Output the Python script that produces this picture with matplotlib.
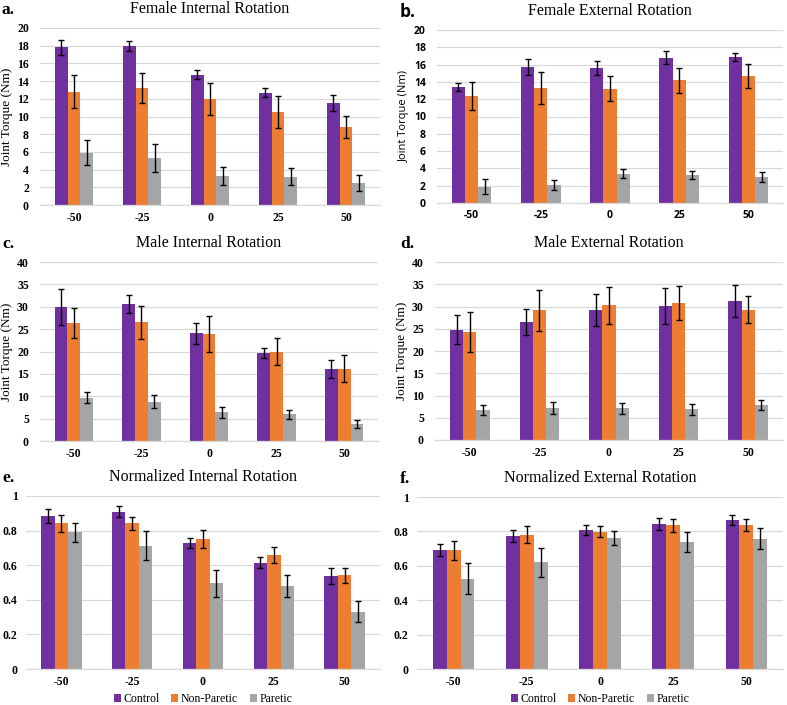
import matplotlib
matplotlib.use("Agg")
import matplotlib.pyplot as plt
import numpy as np

plt.rcParams["font.family"] = "serif"
plt.rcParams["font.serif"] = ["Liberation Serif", "DejaVu Serif"]
plt.rcParams["font.sans-serif"] = ["Open Sans", "DejaVu Sans"]

categories = ["-50", "-25", "0", "25", "50"]
series_names = ["Control", "Non-Paretic", "Paretic"]
colors = ["#7030A0", "#ED7D31", "#A5A5A5"]

# a. Female Internal Rotation
fi_control = [17.8, 18.0, 14.7, 12.7, 11.5]
fi_control_err = [0.85, 0.55, 0.5, 0.5, 0.9]
fi_nonpar = [12.8, 13.2, 12.0, 10.5, 8.8]
fi_nonpar_err = [1.85, 1.7, 1.8, 1.8, 1.25]
fi_paretic = [5.9, 5.3, 3.3, 3.2, 2.5]
fi_paretic_err = [1.4, 1.6, 1.05, 0.95, 0.9]

# b. Female External Rotation
fe_control = [13.4, 15.7, 15.6, 16.8, 16.9]
fe_control_err = [0.5, 0.9, 0.8, 0.75, 0.45]
fe_nonpar = [12.4, 13.3, 13.2, 14.2, 14.7]
fe_nonpar_err = [1.6, 1.8, 1.45, 1.45, 1.4]
fe_paretic = [1.9, 2.1, 3.4, 3.2, 3.0]
fe_paretic_err = [0.85, 0.6, 0.55, 0.45, 0.55]

# c. Male Internal Rotation
mi_control = [30.0, 30.6, 24.1, 19.6, 16.0]
mi_control_err = [4.0, 2.0, 2.35, 1.1, 2.0]
mi_nonpar = [26.4, 26.5, 23.9, 20.0, 16.2]
mi_nonpar_err = [3.4, 3.7, 4.1, 3.0, 3.05]
mi_paretic = [9.7, 8.8, 6.4, 6.0, 3.8]
mi_paretic_err = [1.15, 1.5, 1.15, 1.0, 0.8]

# d. Male External Rotation
me_control = [24.8, 26.6, 29.3, 30.1, 31.2]
me_control_err = [3.25, 2.95, 3.6, 4.1, 3.6]
me_nonpar = [24.3, 29.2, 30.3, 30.8, 29.3]
me_nonpar_err = [4.45, 4.6, 4.15, 3.85, 3.05]
me_paretic = [6.7, 7.3, 7.1, 6.9, 7.8]
me_paretic_err = [1.15, 1.35, 1.25, 1.25, 1.15]

# e. Normalized Internal Rotation
ni_control = [0.885, 0.91, 0.728, 0.615, 0.537]
ni_control_err = [0.042, 0.03, 0.03, 0.03, 0.047]
ni_nonpar = [0.842, 0.843, 0.75, 0.66, 0.542]
ni_nonpar_err = [0.05, 0.038, 0.053, 0.048, 0.044]
ni_paretic = [0.79, 0.713, 0.495, 0.478, 0.33]
ni_paretic_err = [0.056, 0.082, 0.078, 0.063, 0.061]

# f. Normalized External Rotation
ne_control = [0.69, 0.773, 0.807, 0.845, 0.866]
ne_control_err = [0.035, 0.037, 0.028, 0.035, 0.028]
ne_nonpar = [0.69, 0.78, 0.797, 0.835, 0.837]
ne_nonpar_err = [0.057, 0.049, 0.032, 0.037, 0.035]
ne_paretic = [0.525, 0.62, 0.762, 0.737, 0.757]
ne_paretic_err = [0.09, 0.083, 0.043, 0.057, 0.062]

SERIF = ["Liberation Serif", "DejaVu Serif"]
SANS = ["Open Sans", "DejaVu Sans"]

W, H = 787, 705
fig = plt.figure(figsize=(W / 100, H / 100), dpi=100)
fig.patch.set_facecolor("white")


def px_axes(x0, y0, x1, y1):
    return fig.add_axes([x0 / W, 1 - y1 / H, (x1 - x0) / W, (y1 - y0) / H])


panels = [
    dict(box=(40, 28, 380, 205), letter="a.", lx=2, title="Female Internal Rotation",
         data=[(fi_control, fi_control_err), (fi_nonpar, fi_nonpar_err), (fi_paretic, fi_paretic_err)],
         ymax=20, step=2, ylabel=True, sans=False),
    dict(box=(437, 30, 783, 203), letter="b.", lx=400, title="Female External Rotation",
         data=[(fe_control, fe_control_err), (fe_nonpar, fe_nonpar_err), (fe_paretic, fe_paretic_err)],
         ymax=20, step=2, ylabel=True, sans=True),
    dict(box=(40, 262, 378, 441), letter="c.", lx=2, title="Male Internal Rotation",
         data=[(mi_control, mi_control_err), (mi_nonpar, mi_nonpar_err), (mi_paretic, mi_paretic_err)],
         ymax=40, step=5, ylabel=True, sans=False),
    dict(box=(435, 262, 783, 440), letter="d.", lx=400, title="Male External Rotation",
         data=[(me_control, me_control_err), (me_nonpar, me_nonpar_err), (me_paretic, me_paretic_err)],
         ymax=40, step=5, ylabel=True, sans=False),
    dict(box=(26, 496, 380, 669), letter="e.", lx=2, title="Normalized Internal Rotation",
         data=[(ni_control, ni_control_err), (ni_nonpar, ni_nonpar_err), (ni_paretic, ni_paretic_err)],
         ymax=1, step=0.2, ylabel=False, sans=False, legend=True),
    dict(box=(417, 497, 783, 669), letter="f.", lx=400, title="Normalized External Rotation",
         data=[(ne_control, ne_control_err), (ne_nonpar, ne_nonpar_err), (ne_paretic, ne_paretic_err)],
         ymax=1, step=0.2, ylabel=False, sans=False, legend=True),
]

x = np.arange(len(categories))
bw = 0.19

for p in panels:
    x0, y0, x1, y1 = p["box"]
    ax = px_axes(x0, y0, x1, y1)
    if p["sans"]:
        tick_font = dict(family=SANS, weight="bold", size=7.5)
    else:
        tick_font = dict(family=SERIF, weight="bold", size=8.5)
    handles = []
    for i, ((vals, errs), col, name) in enumerate(zip(p["data"], colors, series_names)):
        pos = x + (i - 1) * bw
        b = ax.bar(pos, vals, width=bw, color=col, edgecolor="none", zorder=2, label=name)
        ax.errorbar(pos, vals, yerr=errs, fmt="none", ecolor="black", elinewidth=1.0,
                    capsize=2.3, capthick=1.0, zorder=3)
        handles.append(b)
    ax.set_xlim(-0.5, len(categories) - 0.5)
    ax.set_ylim(0, p["ymax"])
    yt = np.arange(0, p["ymax"] + p["step"] / 2, p["step"])
    ax.set_yticks(yt)
    if p["ymax"] == 1:
        ylabels = ["0" if v == 0 else ("1" if abs(v - 1) < 1e-9 else f"{v:.1f}") for v in yt]
        ypad = 6
    else:
        ylabels = [f"{int(v)}" for v in yt]
        ypad = 8
    ax.set_yticklabels(ylabels, **tick_font)
    ax.set_xticks(x)
    ax.set_xticklabels(categories, **tick_font)
    ax.tick_params(axis="y", length=0, pad=ypad)
    ax.tick_params(axis="x", length=0, pad=5)
    ax.grid(axis="y", color="#D9D9D9", linewidth=0.9, zorder=0)
    ax.set_axisbelow(True)
    for s in ["top", "right", "left"]:
        ax.spines[s].set_visible(False)
    ax.spines["bottom"].set_color("#D9D9D9")
    ax.spines["bottom"].set_linewidth(0.9)
    if p["ylabel"]:
        if p["sans"]:
            ax.set_ylabel("Joint Torque (Nm)", family=SANS, size=8, labelpad=3)
        else:
            ax.set_ylabel("Joint Torque (Nm)", family=SERIF, size=9.5, labelpad=3)
    cx = (x0 + x1) / 2
    fig.text(cx / W, 1 - (y0 - 19) / H, p["title"], family=SERIF, size=11.5,
             ha="center", va="center")
    lfam = SANS if p["sans"] else SERIF
    fig.text(p["lx"] / W, 1 - (y0 - 18) / H, p["letter"], family=lfam, weight="bold", size=12.5,
             ha="left", va="center")
    if p.get("legend"):
        fig.legend(handles, series_names, loc="center", bbox_to_anchor=(cx / W, 1 - 699 / H),
                   ncol=3, frameon=False, prop=dict(family=SERIF, size=8.5),
                   handlelength=0.6, handleheight=0.6, handletextpad=0.2, columnspacing=1.0,
                   borderpad=0.1)

fig.savefig("out.png", dpi=100, facecolor="white")
